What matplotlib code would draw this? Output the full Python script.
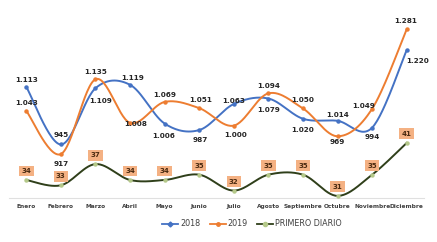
import numpy as np
import matplotlib
matplotlib.use("Agg")
import matplotlib.pyplot as plt
from matplotlib.lines import Line2D

months = ["Enero", "Febrero", "Marzo", "Abril", "Mayo", "Junio", "Julio",
          "Agosto", "Septiembre", "Octubre", "Noviembre", "Diciembre"]
v2018 = [1113, 945, 1109, 1119, 1006, 987, 1063, 1079, 1020, 1014, 994, 1220]
v2019 = [1043, 917, 1135, 1008, 1069, 1051, 1000, 1094, 1050, 969, 1049, 1281]
primero = [34, 33, 37, 34, 34, 35, 32, 35, 35, 31, 35, 41]

# label offsets in points (dx, dy)
off2018 = [(0, 5), (0, 7), (4, -9), (2, 5), (-1, -9), (1, -7), (0, 2), (0, -8),
           (0, -8), (0, 4), (0, -7), (8, -8)]
off2019 = [(0, 6), (0, -7), (0, 5), (4, -1), (0, 5), (1, 6), (1, -7), (0, 5),
           (0, 6), (0, -4), (-6, 2), (-1, 6)]

C18 = "#4472C4"
C19 = "#ED7D31"
CPD = "#2F3F1A"


def smooth(x, y, n=30):
    x = np.asarray(x, float)
    y = np.asarray(y, float)
    P = np.column_stack([x, y])
    ext = np.vstack([P[0], P, P[-1]])
    out = []
    for i in range(len(P) - 1):
        p0, p1, p2, p3 = ext[i], ext[i + 1], ext[i + 2], ext[i + 3]
        c1 = p1 + (p2 - p0) / 6.0
        c2 = p2 - (p3 - p1) / 6.0
        t = np.linspace(0, 1, n)[:, None]
        seg = ((1 - t) ** 3) * p1 + 3 * ((1 - t) ** 2) * t * c1 + 3 * (1 - t) * t ** 2 * c2 + t ** 3 * p2
        out.append(seg if i == 0 else seg[1:])
    s = np.vstack(out)
    return s[:, 0], s[:, 1]


def fmt(v):
    return f"{v:,}".replace(",", ".")


fig = plt.figure(figsize=(4.37, 2.42), dpi=100)
ax = fig.add_axes([9 / 437, 44 / 242, 415 / 437, 188 / 242])
ax2 = ax.twinx()

x = np.arange(len(months))
for vals, col, offs in [(v2018, C18, off2018), (v2019, C19, off2019)]:
    sx, sy = smooth(x, vals)
    ax.plot(sx, sy, color=col, lw=1.4, solid_capstyle="round")
    ax.plot(x, vals, "o", color=col, ms=2.2)
    for xi, v, (dx, dy) in zip(x, vals, offs):
        ax.annotate(fmt(v), (xi, v), xytext=(dx, dy), textcoords="offset points",
                    ha="center", va="center", fontsize=5.2, color="#262626",
                    fontweight="bold")

sx, sy = smooth(x, primero)
ax2.plot(sx, sy, color=CPD, lw=1.4)
ax2.plot(x, primero, "o", color="#B5C98A", ms=2.2)
for xi, v in zip(x, primero):
    ax2.annotate(str(v), (xi, v), xytext=(0, 6.5), textcoords="offset points",
                 ha="center", va="center", fontsize=5, color="#4A2A10",
                 fontweight="bold",
                 bbox=dict(boxstyle="square,pad=0.35", fc="#F4B183", ec="none"))

ax.set_xlim(-0.5, 11.5)
ax.set_ylim(789, 1337)
ax2.set_ylim(30.6, 66.1)

for a in (ax, ax2):
    for s in a.spines.values():
        s.set_visible(False)
    a.set_yticks([])
ax.spines["bottom"].set_visible(True)
ax.spines["bottom"].set_color("#E0E0E0")
ax.spines["bottom"].set_linewidth(0.8)
ax.set_xticks(x)
ax.set_xticklabels(months, fontsize=4.2, color="#404040", fontweight="bold")
ax.tick_params(axis="x", length=0, pad=4)

handles = [
    Line2D([], [], color=C18, lw=1.3, marker="D", ms=2.5),
    Line2D([], [], color=C19, lw=1.3, marker="o", ms=2.5),
    Line2D([], [], color=CPD, lw=1.3, marker="o", ms=3, mfc="#B5C98A", mec="#B5C98A"),
]
fig.legend(handles, ["2018", "2019", "PRIMERO DIARIO"], loc="center",
           bbox_to_anchor=(252 / 437, 1 - 224 / 242), ncol=3, frameon=False,
           fontsize=5.8, handlelength=2.0, handletextpad=0.2, columnspacing=1.2,
           labelcolor="#404040")

fig.savefig("out.png", dpi=100)
